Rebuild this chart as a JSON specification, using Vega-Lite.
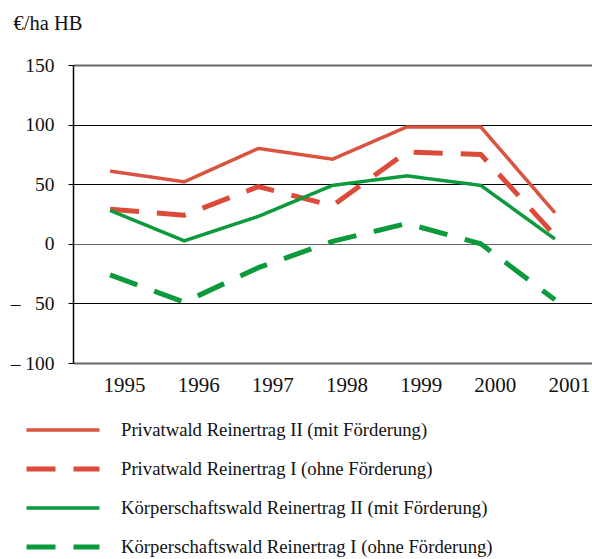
{
  "$schema": "https://vega.github.io/schema/vega-lite/v6.json",
  "width": 519,
  "height": 298,
  "autosize": {"type": "none"},
  "padding": {"left": 73, "top": 65, "right": 0, "bottom": 196},
  "background": "white",
  "config": {"font": "Liberation Serif", "view": {"stroke": null}, "axisY": {"labelPadding": 14}},
  "data": {
    "values": [
      {"series": "Privatwald Reinertrag II (mit Förderung)", "year": "1995", "value": 61},
      {"series": "Privatwald Reinertrag II (mit Förderung)", "year": "1996", "value": 52},
      {"series": "Privatwald Reinertrag II (mit Förderung)", "year": "1997", "value": 80},
      {"series": "Privatwald Reinertrag II (mit Förderung)", "year": "1998", "value": 71},
      {"series": "Privatwald Reinertrag II (mit Förderung)", "year": "1999", "value": 98},
      {"series": "Privatwald Reinertrag II (mit Förderung)", "year": "2000", "value": 98},
      {"series": "Privatwald Reinertrag II (mit Förderung)", "year": "2001", "value": 26},
      {"series": "Privatwald Reinertrag I (ohne Förderung)", "year": "1995", "value": 29},
      {"series": "Privatwald Reinertrag I (ohne Förderung)", "year": "1996", "value": 24},
      {"series": "Privatwald Reinertrag I (ohne Förderung)", "year": "1997", "value": 48},
      {"series": "Privatwald Reinertrag I (ohne Förderung)", "year": "1998", "value": 32},
      {"series": "Privatwald Reinertrag I (ohne Förderung)", "year": "1999", "value": 77},
      {"series": "Privatwald Reinertrag I (ohne Förderung)", "year": "2000", "value": 75},
      {"series": "Privatwald Reinertrag I (ohne Förderung)", "year": "2001", "value": 7},
      {"series": "Körperschaftswald Reinertrag II (mit Förderung)", "year": "1995", "value": 28},
      {"series": "Körperschaftswald Reinertrag II (mit Förderung)", "year": "1996", "value": 2.5},
      {"series": "Körperschaftswald Reinertrag II (mit Förderung)", "year": "1997", "value": 23},
      {"series": "Körperschaftswald Reinertrag II (mit Förderung)", "year": "1998", "value": 49},
      {"series": "Körperschaftswald Reinertrag II (mit Förderung)", "year": "1999", "value": 57},
      {"series": "Körperschaftswald Reinertrag II (mit Förderung)", "year": "2000", "value": 49},
      {"series": "Körperschaftswald Reinertrag II (mit Förderung)", "year": "2001", "value": 4},
      {"series": "Körperschaftswald Reinertrag I (ohne Förderung)", "year": "1995", "value": -26},
      {"series": "Körperschaftswald Reinertrag I (ohne Förderung)", "year": "1996", "value": -49},
      {"series": "Körperschaftswald Reinertrag I (ohne Förderung)", "year": "1997", "value": -20},
      {"series": "Körperschaftswald Reinertrag I (ohne Förderung)", "year": "1998", "value": 2},
      {"series": "Körperschaftswald Reinertrag I (ohne Förderung)", "year": "1999", "value": 17},
      {"series": "Körperschaftswald Reinertrag I (ohne Förderung)", "year": "2000", "value": 0},
      {"series": "Körperschaftswald Reinertrag I (ohne Förderung)", "year": "2001", "value": -47}
    ]
  },
  "encoding": {
    "x": {
      "field": "year", "type": "ordinal",
      "scale": {"padding": 0.5},
      "axis": {"title": null, "labelAngle": 0, "ticks": false, "domain": false, "grid": false,
               "labelFontSize": 21, "labelColor": "#111", "labelPadding": 11, "labelOffset": 14, "labelFont": "Liberation Serif"}
    },
    "y": {
      "field": "value", "type": "quantitative",
      "scale": {"domain": [-100, 150], "nice": false, "zero": false},
      "axis": {
        "values": [-100, -50, 0, 50, 100, 150],
        "grid": true,
        "gridColor": {"condition": {"test": "datum.value == 150 || datum.value == -100 || datum.value == 0", "value": "#666"}, "value": "#000"},
        "gridWidth": {"condition": {"test": "datum.value == 150 || datum.value == -100", "value": 2}, "value": 1},
        "domainColor": "#000", "domainWidth": 1.5,
        "tickColor": "#000", "tickSize": 5, "tickWidth": 1,
        "labelFontSize": 19.5, "labelColor": "#111", "labelPadding": 14, "labelFont": "Liberation Serif",
        "labelExpr": "datum.value == -50 ? '– \u00a0\u00a050' : (datum.value == -100 ? '– 100' : datum.label)",
        "title": "€/ha HB", "titleAngle": 0, "titleAlign": "left", "titleBaseline": "alphabetic",
        "titleX": -60, "titleY": -36, "titleFontSize": 20.5, "titleFontWeight": "normal", "titleColor": "#111", "titleFont": "Liberation Serif"
      }
    },
    "color": {
      "field": "series", "type": "nominal",
      "scale": {
        "domain": ["Privatwald Reinertrag II (mit Förderung)", "Privatwald Reinertrag I (ohne Förderung)", "Körperschaftswald Reinertrag II (mit Förderung)", "Körperschaftswald Reinertrag I (ohne Förderung)"],
        "range": ["#da533e", "#dc4a3a", "#0c9a3c", "#0c9a3c"]
      },
      "legend": {"orient": "none", "legendX": -49, "legendY": 355, "direction": "vertical", "title": null,
                 "symbolType": "stroke", "symbolSize": 5329, "clipHeight": 20, "labelFontSize": 18.7, "labelOffset": 19, "rowPadding": 19,
                 "labelFont": "Liberation Serif", "labelColor": "#111", "labelLimit": 500}
    },
    "strokeDash": {
      "field": "series", "type": "nominal",
      "scale": {
        "domain": ["Privatwald Reinertrag II (mit Förderung)", "Privatwald Reinertrag I (ohne Förderung)", "Körperschaftswald Reinertrag II (mit Förderung)", "Körperschaftswald Reinertrag I (ohne Förderung)"],
        "range": [[1, 0], [29, 18], [1, 0], [29, 18]]
      },
      "legend": {"orient": "none", "legendX": -49, "legendY": 355, "direction": "vertical", "title": null,
                 "symbolType": "stroke", "symbolSize": 5329, "clipHeight": 20, "labelFontSize": 18.7, "labelOffset": 19, "rowPadding": 19,
                 "labelFont": "Liberation Serif", "labelColor": "#111", "labelLimit": 500}
    },
    "strokeWidth": {
      "field": "series", "type": "nominal",
      "scale": {
        "type": "ordinal",
        "domain": ["Privatwald Reinertrag II (mit Förderung)", "Privatwald Reinertrag I (ohne Förderung)", "Körperschaftswald Reinertrag II (mit Förderung)", "Körperschaftswald Reinertrag I (ohne Förderung)"],
        "range": [3.5, 5, 3.5, 5]
      },
      "legend": {"orient": "none", "legendX": -49, "legendY": 355, "direction": "vertical", "title": null,
                 "symbolType": "stroke", "symbolSize": 5329, "clipHeight": 20, "labelFontSize": 18.7, "labelOffset": 19, "rowPadding": 19,
                 "labelFont": "Liberation Serif", "labelColor": "#111", "labelLimit": 500}
    }
  },
  "layer": [
    {"transform": [{"filter": "indexof(datum.series, 'Privatwald') == 0"}], "mark": {"type": "line", "strokeCap": "butt"}},
    {"transform": [{"filter": "indexof(datum.series, 'Körperschaftswald') == 0"}], "mark": {"type": "line", "strokeCap": "butt"}}
  ]
}
